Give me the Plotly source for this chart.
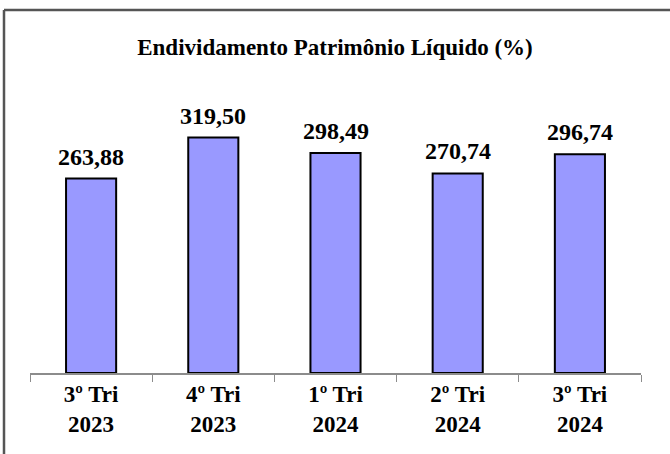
import plotly.graph_objects as go

categories = ["3º Tri<br>2023", "4º Tri<br>2023", "1º Tri<br>2024", "2º Tri<br>2024", "3º Tri<br>2024"]
values = [263.88, 319.50, 298.49, 270.74, 296.74]
labels = ["263,88", "319,50", "298,49", "270,74", "296,74"]
title_text = "Endividamento Patrimônio Líquido (%)"

FONT = "Liberation Serif, Times New Roman, serif"

fig = go.Figure()
fig.add_trace(go.Bar(
    x=categories, y=values, width=0.41,
    marker=dict(color="#9999FF", line=dict(color="#000000", width=2)),
    hoverinfo="skip",
))

for c, v, t in zip(categories, values, labels):
    fig.add_annotation(x=c, y=v, text=t, showarrow=False,
                       yanchor="bottom", yshift=7,
                       font=dict(family=FONT, size=24, color="#000000", weight="bold"))

fig.update_layout(
    width=670, height=454,
    margin=dict(l=30, r=29, t=80, b=81),
    paper_bgcolor="white", plot_bgcolor="white",
    showlegend=False,
    title=dict(text=title_text, x=0.5, xanchor="center",
               y=1 - 47 / 454, yanchor="middle",
               font=dict(family=FONT, size=23, color="#000000", weight="bold")),
    xaxis=dict(showline=True, linecolor="#8c8c8c", linewidth=1.5,
               ticks="outside", tickson="boundaries", ticklen=7, tickcolor="#8c8c8c",
               tickfont=dict(family=FONT, size=23, color="#000000", weight="bold"),
               showgrid=False, fixedrange=True),
    yaxis=dict(range=[0, 397.6], visible=False, showgrid=False, fixedrange=True),
    shapes=[
        dict(type="line", xref="paper", yref="paper",
             x0=(4 - 30) / 611, x1=(4 - 30) / 611, y0=(373 - 10) / 293, y1=-1,
             line=dict(color="#555555", width=2.5)),
        dict(type="line", xref="paper", yref="paper",
             x0=(4 - 30) / 611, x1=2, y0=(373 - 10) / 293, y1=(373 - 10) / 293,
             line=dict(color="#555555", width=2.5)),
    ],
)
fig.update_xaxes(tickangle=0)

fig.write_html("out.html", config={"displayModeBar": False, "staticPlot": True},
               post_script="document.body.style.margin='0';")
